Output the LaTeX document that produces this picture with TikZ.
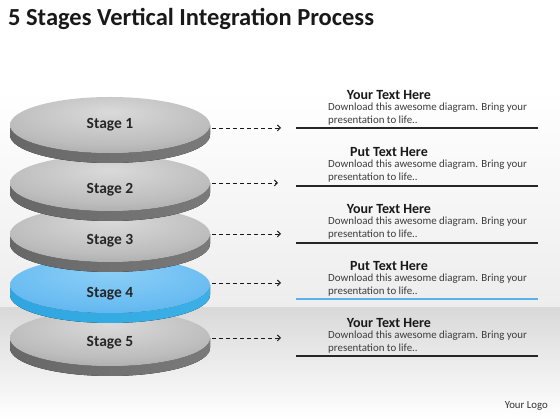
\documentclass[tikz,border=0pt]{standalone}
\usepackage{fontspec}
\setmainfont{Carlito}
\usetikzlibrary{arrows.meta}
\definecolor{gtopA}{HTML}{DADADA}
\definecolor{gtopB}{HTML}{BDBDBD}
\definecolor{gtopC}{HTML}{8C8C8C}
\definecolor{btopA}{HTML}{8CCFF7}
\definecolor{btopB}{HTML}{6BBDF2}
\definecolor{btopC}{HTML}{4AA6E6}
\definecolor{gsideL}{HTML}{676767}
\definecolor{gsideM}{HTML}{B2B2B2}
\definecolor{gsideR}{HTML}{7A7A7A}
\definecolor{bsideL}{HTML}{2FA6E0}
\definecolor{bsideM}{HTML}{6FD6FA}
\definecolor{bsideR}{HTML}{3AB0E6}
\definecolor{bodytxt}{HTML}{3C3C3C}
\definecolor{bluerule}{HTML}{5AB2EC}
\definecolor{bgmid}{HTML}{EDEDED}
\definecolor{bgband}{HTML}{D9D9D9}
\pgfdeclareradialshading{graytop}{\pgfpoint{0bp}{12bp}}{color(0bp)=(gtopA); color(26bp)=(gtopB); color(52bp)=(gtopC); color(90bp)=(gtopC)}
\pgfdeclareradialshading{bluetop}{\pgfpoint{0bp}{12bp}}{color(0bp)=(btopA); color(26bp)=(btopB); color(52bp)=(btopC); color(90bp)=(btopC)}
\newcommand\mydisk[5]{%
  \fill[left color=#3, middle color=#4, right color=#5]
    (10,#1) -- (10,{#1-10}) arc[start angle=180,end angle=360,x radius=100,y radius=28]
    -- (210,#1) arc[start angle=0,end angle=-180,x radius=100,y radius=28] -- cycle;
  \shade[shading=#2] (110,#1) ellipse[x radius=100,y radius=28];
}
\tikzset{
  stagelbl/.style={font=\fontsize{15.5}{17}\selectfont\bfseries, text=black!85},
  headlbl/.style={font=\fontsize{14}{16}\selectfont\bfseries, text=black!90},
  bodylbl/.style={font=\fontsize{10.9}{13}\selectfont, text=bodytxt, align=left, anchor=west, inner sep=0pt},
  dasharrow/.style={draw=black!90, line width=0.9pt, dash pattern=on 4pt off 3pt, -{Straight Barb[length=3pt,width=6pt]}},
  rulegray/.style={draw=black!85, line width=1.4pt},
  ruleblue/.style={draw=bluerule, line width=1.4pt}
}
\begin{document}
\begin{tikzpicture}[x=1pt,y=1pt]
\useasboundingbox (0,0) rectangle (560,420);
% background
\shade[top color=white, bottom color=bgmid] (0,112) rectangle (560,330);
\fill[white] (0,330) rectangle (560,420);
\shade[top color=bgband, bottom color=white] (0,0) rectangle (560,112);
% title
\node[anchor=base west, inner sep=0pt, font=\fontsize{24.5}{28}\selectfont\bfseries, text=black!90] (title) at (8,394) {5 Stages Vertical Integration Process};
% disks (bottom to top)
\mydisk{82}{graytop}{gsideL}{gsideM}{gsideR}
\node[stagelbl] (s5) at (110,77) {Stage 5};
\mydisk{135}{bluetop}{bsideL}{bsideM}{bsideR}
\node[stagelbl] (s4) at (110,126) {Stage 4};
\mydisk{186}{graytop}{gsideL}{gsideM}{gsideR}
\node[stagelbl] (s3) at (110,179) {Stage 3};
\mydisk{237}{graytop}{gsideL}{gsideM}{gsideR}
\node[stagelbl] (s2) at (110,230) {Stage 2};
\mydisk{295}{graytop}{gsideL}{gsideM}{gsideR}
\node[stagelbl] (s1) at (110,295) {Stage 1};
% arrows
\coordinate (a1) at (212,292); \coordinate (b1) at (281,292);
\coordinate (a2) at (212,237); \coordinate (b2) at (278,237);
\coordinate (a3) at (212,186); \coordinate (b3) at (281,186);
\coordinate (a4) at (212,137); \coordinate (b4) at (281,137);
\coordinate (a5) at (212,82);  \coordinate (b5) at (281,82);
\foreach \i in {1,...,5}{\draw[dasharrow] (a\i) -- (b\i);}
% text blocks
\node[headlbl] (h1) at (389,325) {Your Text Here};
\node[bodylbl] (t1) at (328,305.5) {Download this awesome diagram. Bring your\\presentation to life..};
\coordinate (r1a) at (296,292); \coordinate (r1b) at (538,292);
\draw[rulegray] (r1a) -- (r1b);
\node[headlbl] (h2) at (389,268) {Put Text Here};
\node[bodylbl] (t2) at (328,248.5) {Download this awesome diagram. Bring your\\presentation to life..};
\coordinate (r2a) at (296,234); \coordinate (r2b) at (538,234);
\draw[rulegray] (r2a) -- (r2b);
\node[headlbl] (h3) at (389,211) {Your Text Here};
\node[bodylbl] (t3) at (328,191.5) {Download this awesome diagram. Bring your\\presentation to life..};
\coordinate (r3a) at (296,177); \coordinate (r3b) at (538,177);
\draw[rulegray] (r3a) -- (r3b);
\node[headlbl] (h4) at (389,154) {Put Text Here};
\node[bodylbl] (t4) at (328,134.5) {Download this awesome diagram. Bring your\\presentation to life..};
\coordinate (r4a) at (296,121); \coordinate (r4b) at (538,121);
\draw[ruleblue] (r4a) -- (r4b);
\node[headlbl] (h5) at (389,97) {Your Text Here};
\node[bodylbl] (t5) at (328,77.5) {Download this awesome diagram. Bring your\\presentation to life..};
\coordinate (r5a) at (296,64); \coordinate (r5b) at (538,64);
\draw[rulegray] (r5a) -- (r5b);
% logo
\node[anchor=east, inner sep=0pt, font=\fontsize{10.8}{12}\selectfont, text=black!80] (logo) at (548,14) {Your Logo};
\end{tikzpicture}
\end{document}
